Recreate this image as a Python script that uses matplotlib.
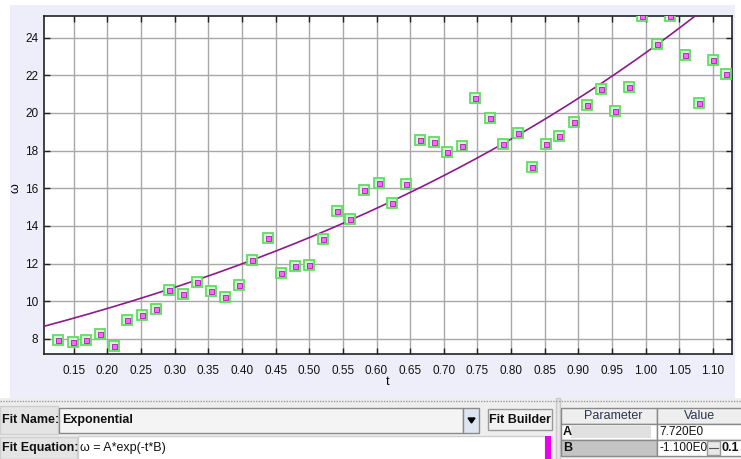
import numpy as np
import matplotlib.pyplot as plt
from matplotlib.patches import Rectangle

plt.rcParams['font.family'] = ['Liberation Sans', 'DejaVu Sans']

# measured samples
t_vals = [0.127, 0.148, 0.168, 0.189, 0.210, 0.229, 0.251, 0.272, 0.292, 0.313,
          0.333, 0.354, 0.375, 0.396, 0.415, 0.438, 0.458, 0.479, 0.499, 0.520,
          0.541, 0.561, 0.581, 0.603, 0.623, 0.644, 0.665, 0.686, 0.705, 0.727,
          0.747, 0.768, 0.788, 0.810, 0.831, 0.852, 0.871, 0.893, 0.913, 0.934,
          0.955, 0.976, 0.995, 1.017, 1.037, 1.058, 1.079, 1.100, 1.119]
omega_vals = [7.93, 7.82, 7.96, 8.27, 7.61, 8.99, 9.26, 9.58, 10.60, 10.36,
              11.02, 10.55, 10.22, 10.89, 12.20, 13.36, 11.51, 11.87, 11.90, 13.30,
              14.77, 14.35, 15.89, 16.28, 15.22, 16.24, 18.57, 18.46, 17.93, 18.27,
              20.80, 19.74, 18.37, 18.94, 17.15, 18.36, 18.80, 19.53, 20.45, 21.28,
              20.13, 21.37, 25.15, 23.65, 25.15, 23.07, 20.55, 22.82, 22.09]

# fit parameters for w = A*exp(-t*B)
A = 7.720
B = -1.100

x_ticks = [0.15, 0.20, 0.25, 0.30, 0.35, 0.40, 0.45, 0.50, 0.55, 0.60,
           0.65, 0.70, 0.75, 0.80, 0.85, 0.90, 0.95, 1.00, 1.05, 1.10]
y_ticks = [8, 10, 12, 14, 16, 18, 20, 22, 24]
x_range = (0.1056, 1.1285)
y_range = (7.2, 25.15)

W, H = 741, 459
fig = plt.figure(figsize=(W / 100, H / 100), dpi=100)
fig.patch.set_facecolor('white')

# pixel-space layer for the panel chrome
ui = fig.add_axes([0, 0, 1, 1], zorder=0)
ui.set_xlim(0, W)
ui.set_ylim(H, 0)
ui.axis('off')


def box(x0, y0, x1, y1, fc, ec='none', lw=1.0, z=1):
    ui.add_patch(Rectangle((x0, y0), x1 - x0, y1 - y0, facecolor=fc,
                           edgecolor=ec, linewidth=lw, zorder=z))


box(10, 5, 735, 398, '#eeeefb')
box(0, 398, W, H, '#eeeeee')
ui.plot([0, W], [401, 401], color='#9a9a9a', lw=1, ls=(0, (1, 1)), zorder=2)

# fit name row
box(0, 406, 58, 434, '#e4e4e4', '#cfcfcf')
ui.text(2, 420, 'Fit Name:', fontsize=9, fontweight='bold', va='center', color='#111111')
box(59, 408, 463, 433, '#f4f4f4', '#8a8a8a')
ui.text(62, 420, 'Exponential', fontsize=9, fontweight='bold', va='center', color='#111111')
box(463, 408, 479, 433, '#dde6f0', '#8a8a8a')
ui.fill([468, 475, 471.5], [418, 418, 423], color='black', zorder=3)
box(488, 409, 552, 430, '#f2f2f2', '#9a9a9a')
ui.text(520, 420, 'Fit Builder', fontsize=9, fontweight='bold', ha='center', va='center', color='#111111')

# fit equation row
box(0, 437, 77, H, '#e4e4e4', '#cfcfcf')
ui.text(2, 448, 'Fit Equation:', fontsize=9, fontweight='bold', va='center', color='#111111')
box(78, 436, 545, H + 2, 'white', '#cfcfcf')
ui.text(80, 448, '\u03c9 = A*exp(-t*B)', fontsize=9, va='center', color='#111111')
box(545, 436, 551, H, '#ee00ee')

# splitter and parameter table
box(556, 398, 560, H, '#e6e6e6', '#c8c8c8')
box(561, 408, 657, 424, '#eeeeee', '#8a8a8a')
box(657, 408, W + 2, 424, '#eeeeee', '#8a8a8a')
ui.text(613, 416, 'Parameter', fontsize=9, ha='center', va='center', color='#2a3550')
ui.text(700, 416, 'Value', fontsize=9, ha='center', va='center', color='#2a3550')
box(561, 424, 657, 440, 'white', '#8a8a8a')
box(571, 426, 651, 438, '#e0e0e0')
box(657, 424, W + 2, 440, 'white', '#8a8a8a')
ui.text(563, 432, 'A', fontsize=9, fontweight='bold', va='center', color='#111111')
ui.text(659, 432, '7.720E0', fontsize=8.5, va='center', color='#111111')
box(561, 440, 657, 456, '#c4c4c4', '#8a8a8a')
box(657, 440, W + 2, 456, 'white', '#8a8a8a')
ui.text(563, 448, 'B', fontsize=9, fontweight='bold', va='center', color='#111111')
ui.text(659, 448, '-1.100E0', fontsize=8.5, va='center', color='#111111')
box(707, 441, 720, 455, '#e8e8e8', '#9a9a9a', z=2)
ui.plot([709, 718], [448, 448], color='#555555', lw=0.8, zorder=3)
ui.text(722, 448, '0.1', fontsize=9, fontweight='bold', va='center', color='#111111')

# main plot
ax = fig.add_axes([44 / W, 1 - 354 / H, (732 - 44) / W, (354 - 16) / H], zorder=2)
ax.set_facecolor('white')
ax.set_xlim(*x_range)
ax.set_ylim(*y_range)
ax.set_xticks(x_ticks)
ax.set_xticklabels([f'{v:.2f}' for v in x_ticks])
ax.set_yticks(y_ticks)
ax.grid(True, color='#a8a8a8', lw=1.0)
ax.set_axisbelow(True)
ax.tick_params(direction='in', length=4, width=1, color='#222222', labelsize=8.5,
               top=True, right=True, labelcolor='#111111')
ax.tick_params(axis='x', pad=8)
ax.tick_params(axis='y', pad=4)
for s in ax.spines.values():
    s.set_color('#222222')
    s.set_linewidth(1.2)

t_fit = np.linspace(x_range[0], x_range[1], 300)
ax.plot(t_fit, A * np.exp(-t_fit * B), color='#8b1a8b', lw=1.2, zorder=3)

ax.plot(t_vals, omega_vals, ls='none', marker='s', ms=7, mfc='#d6f5d6',
        mec='#5ede5e', mew=1.3, zorder=4)
ax.plot(t_vals, omega_vals, ls='none', marker='s', ms=3.6, mfc='#f06ef0',
        mec='#b82cb8', mew=0.7, zorder=5)

ax.set_xlabel('t', fontsize=9, labelpad=-1)
ax.set_ylabel('\u03c9', fontsize=9)
ax.yaxis.set_label_coords(-0.032, 0.49)

fig.savefig('out.png', dpi=100)
